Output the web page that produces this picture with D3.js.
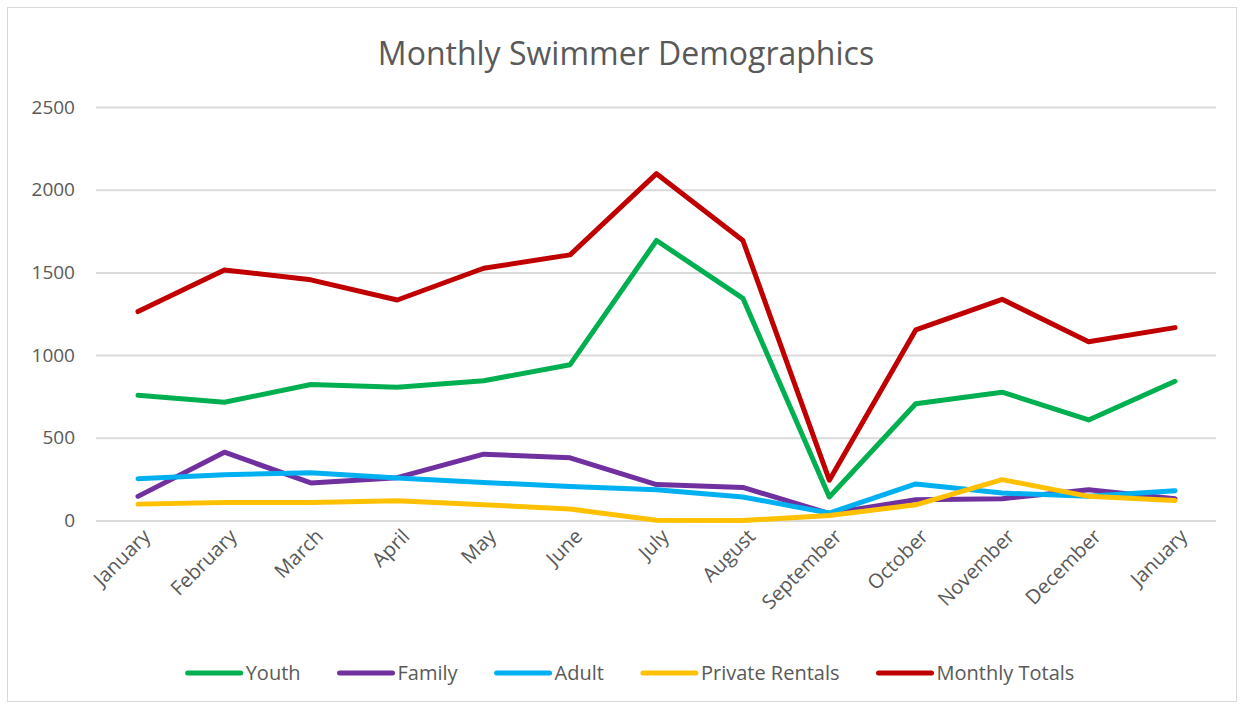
<!DOCTYPE html>
<html>
<head>
<meta charset="utf-8">
<script src="https://cdn.jsdelivr.net/npm/d3@7"></script>
<style>
  body { margin: 0; background: #fff; }
  text { font-family: "Open Sans", sans-serif; fill: #595959; }
</style>
</head>
<body>
<div id="chart"></div>
<script>
// Dados
var months = ["January", "February", "March", "April", "May", "June", "July",
              "August", "September", "October", "November", "December", "January"];
var youth    = [757, 715, 822, 806, 845, 942, 1693, 1343, 142, 706, 776, 608, 842];
var family   = [146, 413, 227, 259, 401, 379, 217, 200, 42, 126, 132, 186, 132];
var adult    = [253, 277, 288, 257, 230, 206, 186, 142, 45, 221, 166, 146, 180];
var rentals  = [99, 109, 109, 120, 95, 69, 2, 0, 30, 95, 247, 146, 121];
var totals   = [1263, 1515, 1455, 1333, 1525, 1606, 2097, 1693, 244, 1152, 1337, 1081, 1166];
var yTicks   = [0, 500, 1000, 1500, 2000, 2500];

var seriesNames  = ["Youth", "Family", "Adult", "Private Rentals", "Monthly Totals"];
var seriesValues = [youth, family, adult, rentals, totals];
var seriesColors = ["#00B050", "#7030A0", "#00B0F0", "#FFC000", "#C00000"];

var width = 1244, height = 709;
var plot = { left: 96, right: 1216, top: 107, bottom: 520.5 };

var svg = d3.select("#chart")
  .append("svg")
  .attr("width", width)
  .attr("height", height);

// Borda do gráfico
svg.append("rect")
  .attr("x", 7.5)
  .attr("y", 7.5)
  .attr("width", 1229)
  .attr("height", 694)
  .attr("fill", "#fff")
  .attr("stroke", "#d9d9d9")
  .attr("stroke-width", 1);

// Escalas
var xScale = d3.scalePoint()
  .domain(d3.range(months.length))
  .range([138, 1175]);

var yScale = d3.scaleLinear()
  .domain([0, 2500])
  .range([plot.bottom, plot.top]);

// Título
svg.append("text")
  .attr("x", 626)
  .attr("y", 65)
  .attr("text-anchor", "middle")
  .style("font-size", "32px")
  .text("Monthly Swimmer Demographics");

// Eixo Y com linhas de grade
var yAxis = d3.axisLeft(yScale)
  .tickValues(yTicks)
  .tickSize(-(plot.right - plot.left))
  .tickPadding(21)
  .tickFormat(d3.format("d"));

var yG = svg.append("g")
  .attr("class", "axis y-axis")
  .attr("transform", "translate(" + plot.left + ",0)")
  .call(yAxis);
yG.select(".domain").remove();
yG.selectAll(".tick line")
  .attr("stroke", "#d9d9d9")
  .attr("stroke-width", 2);
yG.selectAll(".tick text")
  .style("font-size", "19px")
  .attr("fill", "#595959");

// Eixo X
var xAxis = d3.axisBottom(xScale)
  .tickSize(0)
  .tickFormat(function(i) { return months[i]; });

var xG = svg.append("g")
  .attr("class", "axis x-axis")
  .attr("transform", "translate(0," + plot.bottom + ")")
  .call(xAxis);
xG.select(".domain").remove();
xG.selectAll(".tick text")
  .style("font-size", "20px")
  .attr("fill", "#595959")
  .attr("text-anchor", "end")
  .attr("dy", 0)
  .attr("transform", "translate(11,15) rotate(-45)");

// Linhas
var line = d3.line()
  .x(function(d, i) { return xScale(i); })
  .y(function(d) { return yScale(d); });

seriesValues.forEach(function(vals, k) {
  svg.append("path")
    .datum(vals)
    .attr("class", "series")
    .attr("fill", "none")
    .attr("stroke", seriesColors[k])
    .attr("stroke-width", 5)
    .attr("stroke-linejoin", "round")
    .attr("stroke-linecap", "round")
    .attr("d", line);
});

// Legenda centralizada
var legend = svg.append("g").attr("class", "legend");
var items = [];
seriesNames.forEach(function(name, k) {
  var g = legend.append("g");
  g.append("line")
    .attr("x1", 0).attr("x2", 53)
    .attr("y1", 0).attr("y2", 0)
    .attr("stroke", seriesColors[k])
    .attr("stroke-width", 5)
    .attr("stroke-linecap", "round");
  var t = g.append("text")
    .attr("x", 58)
    .attr("y", 7)
    .style("font-size", "20px")
    .text(name);
  items.push({ g: g, w: 58 + t.node().getComputedTextLength() });
});
var gap = 39;
var total = d3.sum(items, function(d) { return d.w; }) + gap * (items.length - 1);
var cx = 631 - total / 2;
items.forEach(function(d) {
  d.g.attr("transform", "translate(" + cx + ",673)");
  cx += d.w + gap;
});
</script>
</body>
</html>
